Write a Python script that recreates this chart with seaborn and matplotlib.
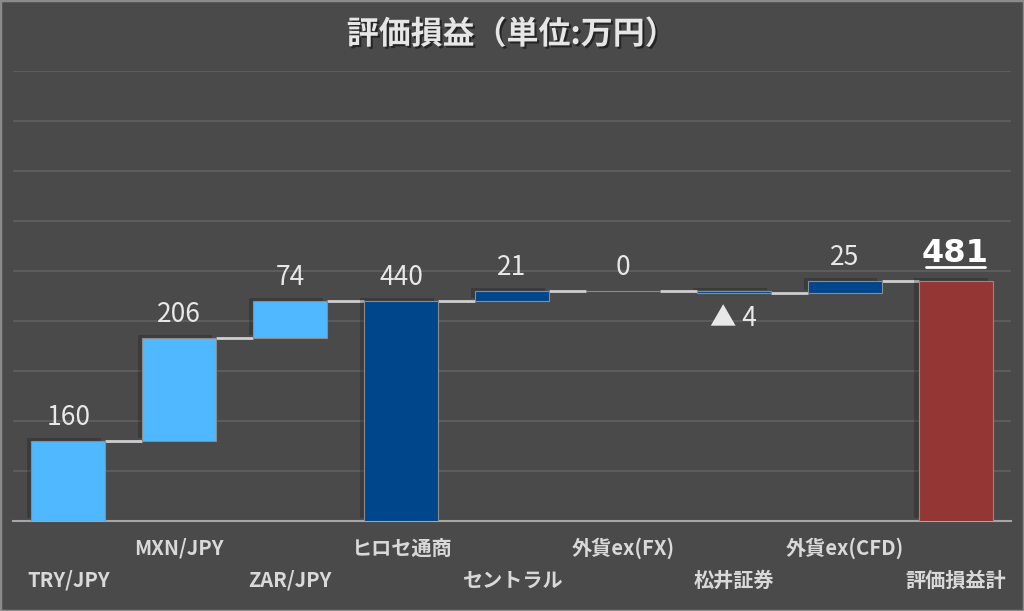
import matplotlib
matplotlib.use("Agg")
import matplotlib.pyplot as plt
import matplotlib.patheffects as pe
from matplotlib.patches import Rectangle
import numpy as np
import pandas as pd
import seaborn as sns

# data (万円)
categories = ["TRY/JPY", "MXN/JPY", "ZAR/JPY", "ヒロセ通商", "セントラル",
              "外貨ex(FX)", "松井証券", "外貨ex(CFD)", "評価損益計"]
deltas = [160.2, 205.8, 73.9, None, 20.6, 0.2, -4.4, 24.6, None]
is_total = [False, False, False, True, False, False, False, False, True]
kinds = ["fx", "fx", "fx", "sub", "co", "co", "co", "co", "total"]

colors = {"fx": "#50b8ff", "sub": "#00468a", "co": "#00468a", "total": "#943634"}
bg = "#4a4a4a"
txt = "#e8e8e8"

# waterfall bottoms / heights
bottoms, heights, levels = [], [], []
run = 0.0
for d, tot in zip(deltas, is_total):
    if tot:
        bottoms.append(0.0)
        heights.append(run)
    else:
        bottoms.append(run)
        heights.append(d)
        run += d
    levels.append(run)

df = pd.DataFrame({"cat": categories, "h": heights, "b": bottoms, "kind": kinds})

sns.set_style("white")
plt.rcParams["font.family"] = ["Noto Sans CJK JP", "DejaVu Sans"]

fig = plt.figure(figsize=(10.24, 6.11), dpi=100, facecolor=bg)
ax = fig.add_axes([0.0127, 0.147, 0.9746, 0.737])
ax.set_facecolor(bg)

sns.barplot(data=df, x="cat", y="h", hue="cat", saturation=1,
            palette=[colors[k] for k in kinds], legend=False,
            width=0.667, edgecolor="#8c8c8c", linewidth=0.8, ax=ax, zorder=3)

# move bars to their waterfall bottoms
for patch, b, h in zip(ax.patches, bottoms, heights):
    patch.set_y(b)
    patch.set_height(h)
    patch.set_path_effects([pe.SimplePatchShadow(offset=(-3, 2), shadow_rgbFace="black", alpha=0.2),
                            pe.Normal()])

# connector lines
w = 0.667
for i in range(len(categories) - 1):
    ax.plot([i + w / 2, i + 1 - w / 2], [levels[i], levels[i]],
            color="#cfcfcf", lw=2, zorder=2, solid_capstyle="butt")

# value labels
for i, (h, b, tot) in enumerate(zip(heights, bottoms, is_total)):
    if i == len(categories) - 1:
        ax.annotate(f"{h:.0f}", (i, b + h), xytext=(0, 8), textcoords="offset points",
                    ha="center", va="bottom", fontsize=23, fontweight="bold", color="white",
                    family=["DejaVu Sans"])
        continue
    top = max(b, b + h)
    if h < 0:
        ax.annotate(f"▲ {abs(h):.0f}", (i, min(b, b + h)), xytext=(0, -9), textcoords="offset points",
                    ha="center", va="top", fontsize=19, color=txt)
    else:
        ax.annotate(f"{h:.0f}", (i, top), xytext=(0, 7), textcoords="offset points",
                    ha="center", va="bottom", fontsize=19, color=txt)

# underline for total label
ax.plot([8 - 0.27, 8 + 0.27], [levels[-1] + 28, levels[-1] + 28], color="white", lw=2, zorder=5)

ax.set_xlim(-0.5, len(categories) - 0.5)
ax.set_ylim(0, 900)
ax.set_yticks(np.arange(100, 901, 100))
ax.yaxis.grid(True, color="#5e5e5e", lw=1.3, zorder=0)
ax.set_axisbelow(True)
ax.tick_params(axis="y", left=False, labelleft=False)
ax.set_xlabel("")
ax.set_ylabel("")
for s in ["top", "right", "left"]:
    ax.spines[s].set_visible(False)
ax.spines["bottom"].set_color("#a6a6a6")
ax.spines["bottom"].set_linewidth(1.5)

# staggered category labels
odd = list(range(1, len(categories), 2))
even = list(range(0, len(categories), 2))
ax.set_xticks(odd, [categories[i] for i in odd])
ax.set_xticks(even, [categories[i] for i in even], minor=True)
ax.tick_params(axis="x", which="major", length=0, pad=12, labelsize=14.5, labelcolor="#d9d9d9")
ax.tick_params(axis="x", which="minor", length=0, pad=35, labelsize=14.5, labelcolor="#d9d9d9")
for t in ax.get_xticklabels(which="both"):
    t.set_fontweight("bold")

fig.text(0.5, 0.943, "評価損益（単位:万円）", ha="center", va="center", fontsize=23,
         fontweight="bold", color="#e6e6e6",
         path_effects=[pe.withSimplePatchShadow(offset=(1.5, -1.5), shadow_rgbFace="black", alpha=0.5)])

fig.patches.append(Rectangle((0, 0), 1, 1, transform=fig.transFigure, fill=False,
                             edgecolor="#8a8a8a", lw=2.5))

fig.savefig("out.png", dpi=100, facecolor=bg)
